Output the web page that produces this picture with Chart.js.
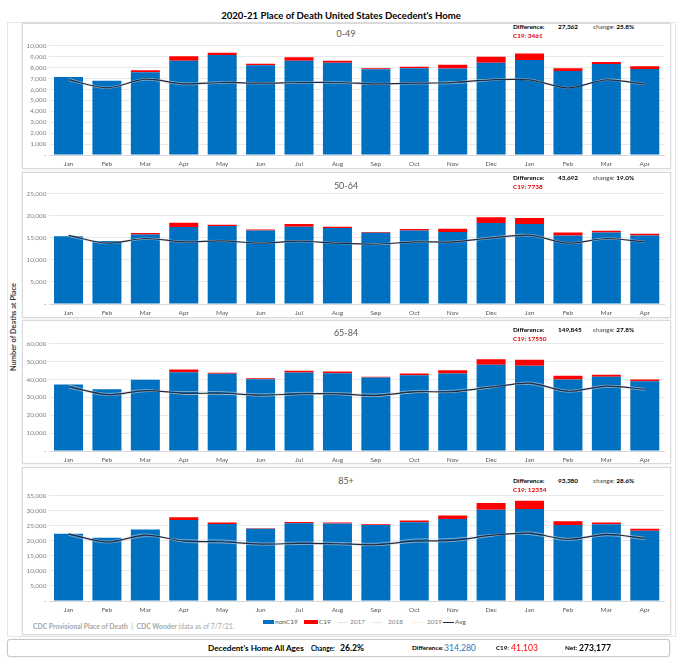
<!DOCTYPE html>
<html><head><meta charset="utf-8">
<script src="https://cdn.jsdelivr.net/npm/chart.js@4.4.1/dist/chart.umd.min.js"></script>
<style>
body{margin:0;width:680px;height:664px;background:#fff;position:relative;font-family:Lato,"Open Sans",sans-serif;overflow:hidden}
.t{position:absolute;white-space:nowrap;line-height:1;transform:translateY(-50%)}
.box{position:absolute;border:1px solid #d9d9d9;background:#fff;box-sizing:border-box}
.panel{box-shadow:0 0 2px rgba(0,0,0,0.12)}
canvas{position:absolute}
b{font-weight:700}
</style>
</head>
<body>
<div class="box" style="left:7px;top:22px;width:669px;height:615px;border-color:#e6e6e6"></div>
<div class="box panel" style="left:22px;top:23px;width:649px;height:146px"></div>
<div class="box panel" style="left:22px;top:172px;width:649px;height:146px"></div>
<div class="box panel" style="left:22px;top:320px;width:649px;height:144px"></div>
<div class="box panel" style="left:22px;top:467px;width:649px;height:168px"></div>
<div class="box panel" style="left:7px;top:639px;width:663px;height:18px;border-radius:3px;border-color:#c8c8c8"></div>

<canvas id="c1"></canvas><canvas id="c2"></canvas><canvas id="c3"></canvas><canvas id="c4"></canvas>

<div class="t" style="left:0;width:682px;text-align:center;top:16px;font-size:9.6px;font-weight:700;color:#000">2020-21 Place of Death United States Decedent's Home</div>
<div class="t" style="left:14px;top:327px;font-size:7.4px;font-weight:700;color:#404040;transform:translate(-50%,-50%) rotate(-90deg)">Number of Deaths at Place</div>

<div id="notes"></div>

<div class="t" style="left:263px;top:622px;width:11px;height:4px;background:#0070c0;transform:translateY(-50%)"></div>
<div class="t" style="left:275px;top:622px;font-size:6.5px;color:#595959">nonC19</div>
<div class="t" style="left:304px;top:622px;width:14px;height:4px;background:#ff0000;transform:translateY(-50%)"></div>
<div class="t" style="left:319px;top:622px;font-size:6.5px;color:#595959">C19</div>
<div class="t" style="left:338px;top:622px;width:10px;height:1px;background:#e3e3e3;transform:none"></div>
<div class="t" style="left:350px;top:622px;font-size:6.5px;color:#7f7f7f">2017</div>
<div class="t" style="left:371px;top:622px;width:11px;height:1px;background:#e3e8ef;transform:none"></div>
<div class="t" style="left:388px;top:622px;font-size:6.5px;color:#7f7f7f">2018</div>
<div class="t" style="left:412px;top:622px;width:11px;height:1px;background:#f6efd4;transform:none"></div>
<div class="t" style="left:427px;top:622px;font-size:6.5px;color:#7f7f7f">2019</div>
<div class="t" style="left:443px;top:621.5px;width:11px;height:1.5px;background:#1f2a44;transform:none"></div>
<div class="t" style="left:455px;top:622px;font-size:6.5px;color:#595959">Avg</div>

<div class="t" style="left:33px;top:626px;font-size:6.8px;color:#a6a6a6"><b>CDC Provisional Place of Death</b> &nbsp;|&nbsp; <b>CDC Wonder</b> (data as of 7/7/21.</div>

<div class="t" style="left:208px;top:648px;font-size:8.2px;font-weight:700;color:#000">Decedent's Home All Ages</div>
<div class="t" style="left:311px;top:648px;font-size:6.6px;font-weight:700;color:#000">Change:</div>
<div class="t" style="left:340px;top:648px;font-size:8.6px;font-weight:700;color:#000">26.2%</div>
<div class="t" style="left:412px;top:648px;font-size:6.4px;font-weight:700;color:#000">Difference:</div>
<div class="t" style="left:444px;top:648px;font-size:8.6px;color:#2e75b6">314,280</div>
<div class="t" style="left:496px;top:648px;font-size:6.2px;font-weight:700;color:#000">C19:</div>
<div class="t" style="left:511px;top:648px;font-size:8.6px;color:#ff0000">41,103</div>
<div class="t" style="left:565px;top:648px;font-size:6.4px;font-weight:700;color:#000">Net:</div>
<div class="t" style="left:579px;top:648px;font-size:8.6px;font-weight:700;color:#000">273,177</div>

<script>
const months = ['Jan','Feb','Mar','Apr','May','Jun','Jul','Aug','Sep','Oct','Nov','Dec','Jan','Feb','Mar','Apr'];

const groups = ['0-49','50-64','65-84','85+'];
const differences = ['27,362','43,692','149,845','93,380'];
const changes = ['25.8%','19.0%','27.8%','28.6%'];
const c19Totals = ['3461','7738','17550','12354'];

// 0-49
const nonC19_0_49 = [7150,6800,7575,8640,9150,8210,8640,8450,7850,7940,7910,8450,8700,7700,8330,7880];
const c19_0_49    = [0,0,185,390,210,150,300,190,90,150,360,550,600,240,185,240];
const avg_0_49    = [6900,6150,6940,6515,6640,6575,6640,6640,6515,6575,6640,6880,6880,6150,6880,6485];
const y2017_0_49  = [6800,6100,6850,6420,6560,6500,6580,6560,6450,6500,6520,6800,6950,6200,6820,6420];
const y2018_0_49  = [7000,6220,7000,6600,6700,6620,6700,6700,6560,6620,6700,6920,6850,6120,6950,6550];
const y2019_0_49  = [6900,6150,6960,6540,6660,6600,6620,6660,6540,6600,6680,6940,6860,6150,6900,6500];

// 50-64
const nonC19_50_64 = [15350,14300,15770,17450,17680,16690,17530,17220,16150,16690,16310,18360,18140,15540,16230,15540];
const c19_50_64    = [0,0,310,990,300,230,610,310,160,300,760,1300,1370,690,380,390];
const avg_50_64    = [15550,13800,14860,14100,14330,13800,14250,13800,13560,14100,14100,15010,15620,13800,14860,14100];
const y2017_50_64  = [15300,13650,14700,13950,14200,13700,14100,13700,13450,13950,13950,14800,15400,13650,14700,13950];
const y2018_50_64  = [15800,13950,15000,14250,14450,13900,14400,13900,13650,14250,14250,15200,15800,13950,15000,14250];
const y2019_50_64  = [15550,13800,14880,14100,14350,13820,14250,13820,13580,14100,14120,15050,15650,13800,14880,14100];

// 65-84
const nonC19_65_84 = [37190,34580,39810,44110,43170,40180,43920,43550,41120,42430,43360,48220,47660,40000,41490,39060];
const c19_65_84    = [0,0,0,1490,560,560,940,930,370,930,1870,3180,3360,2050,1120,940];
const avg_65_84    = [36070,31590,33830,32330,32330,31210,31960,31960,31030,33080,33270,35700,37940,33460,36260,34580];
const y2017_65_84  = [35200,31000,33200,33300,33200,32000,32800,32700,31900,33900,34000,36300,37200,32900,35600,34000];
const y2018_65_84  = [36900,32200,34400,32000,31800,30800,31500,31500,30600,32700,33000,35300,38600,34000,36800,35100];
const y2019_65_84  = [36000,31500,33800,31700,31900,30800,31600,31700,30600,32600,32800,35500,38000,33500,36300,34600];

// 85+
const nonC19_85 = [22350,21030,23780,26970,25650,24000,25870,25760,25320,26200,27300,30390,30610,25320,25540,23340];
const c19_85    = [0,0,0,890,440,220,440,330,220,550,1100,2200,2750,1210,550,660];
const avg_85    = [22350,19600,21910,19930,19710,18940,19160,19050,18720,19930,20150,21800,22570,20480,22130,20810];
const y2017_85  = [21800,19300,21400,20400,20300,19300,19600,19500,19200,20600,20800,22100,22100,20100,21700,20400];
const y2018_85  = [22800,19900,22300,19600,19300,18600,18800,18700,18400,19500,19800,21500,23000,20800,22500,21200];
const y2019_85  = [22400,19600,21900,19800,19600,18900,19100,19000,18600,19800,20000,21700,22600,20500,22200,20800];

const panelData = [
  {nonC19:nonC19_0_49, c19:c19_0_49, avg:avg_0_49, y17:y2017_0_49, y18:y2018_0_49, y19:y2019_0_49, max:10000, step:1000},
  {nonC19:nonC19_50_64, c19:c19_50_64, avg:avg_50_64, y17:y2017_50_64, y18:y2018_50_64, y19:y2019_50_64, max:25000, step:5000},
  {nonC19:nonC19_65_84, c19:c19_65_84, avg:avg_65_84, y17:y2017_65_84, y18:y2018_65_84, y19:y2019_65_84, max:60000, step:10000},
  {nonC19:nonC19_85, c19:c19_85, avg:avg_85, y17:y2017_85, y18:y2018_85, y19:y2019_85, max:35000, step:5000}
];

// layout (pixels)
const plotTops = [45, 193.8, 343.7, 495];
const plotBottoms = [155, 303.3, 450.7, 601];
const titleY = [33, 185, 332, 480];
const noteY = [27, 178, 330, 481];

const FONT = 'Lato, "Open Sans", sans-serif';

function makePanel(i) {
  const d = panelData[i];
  const cv = document.getElementById('c' + (i + 1));
  const top = Math.floor(plotTops[i]) - 6;
  const padTop = plotTops[i] - top;
  const xh = 16;
  const h = Math.ceil(plotBottoms[i] - top) + xh;
  cv.width = 649; cv.height = h;
  cv.style.left = '22px'; cv.style.top = top + 'px';
  cv.style.width = '649px'; cv.style.height = h + 'px';
  const line = (label, data, color, w, order) => ({
    type:'line', label, data, borderColor:color, borderWidth:w, pointRadius:0,
    tension:0.3, fill:false, order, stack:'s_' + label
  });
  new Chart(cv, {
    type:'bar',
    data:{
      labels: months,
      datasets:[
        line('Avg', d.avg, '#1f2a44', 1.2, 0),
        line('2019', d.y19, 'rgba(240,228,190,0.55)', 1, 1),
        line('2018', d.y18, 'rgba(215,222,232,0.55)', 1, 2),
        line('2017', d.y17, 'rgba(215,215,215,0.55)', 1, 3),
        {type:'bar', label:'nonC19', data:d.nonC19, backgroundColor:'#0070c0', stack:'bars', order:5, barPercentage:0.755, categoryPercentage:1},
        {type:'bar', label:'C19', data:d.c19, backgroundColor:'#ff0000', stack:'bars', order:5, barPercentage:0.755, categoryPercentage:1}
      ]
    },
    options:{
      responsive:false, animation:false, devicePixelRatio:1,
      layout:{padding:{top:padTop, right:7, left:0, bottom:0}},
      plugins:{legend:{display:false}, tooltip:{enabled:false}},
      scales:{
        x:{stacked:true, grid:{display:false, drawTicks:false}, border:{display:true, color:'#d9d9d9'},
           ticks:{font:{family:FONT, size:6.5}, color:'#595959', padding:5, maxRotation:0, autoSkip:false},
           afterFit(s){ s.height = xh; }},
        y:{stacked:true, min:0, max:d.max,
           ticks:{stepSize:d.step, font:{family:FONT, size:6.3}, color:'#7f7f7f', padding:3,
                  callback:v => v === 0 ? '-' : v.toLocaleString('en-US')},
           grid:{color:'#e8e8e8', drawTicks:false}, border:{display:false},
           afterFit(s){ s.width = 27.3; }}
      }
    }
  });
}

const notes = document.getElementById('notes');
for (let i = 0; i < 4; i++) {
  makePanel(i);
  notes.insertAdjacentHTML('beforeend',
    `<div class="t" style="left:0;width:692px;text-align:center;top:${titleY[i]}px;font-size:9px;color:#595959">${groups[i]}</div>` +
    `<div class="t" style="left:513px;top:${noteY[i]}px;font-size:6.4px;font-weight:700;color:#000">Difference:</div>` +
    `<div class="t" style="left:558px;top:${noteY[i]}px;font-size:6.4px;font-weight:700;color:#000">${differences[i]}</div>` +
    `<div class="t" style="left:593px;top:${noteY[i]}px;font-size:6.4px;color:#404040">change: <b style="color:#000">${changes[i]}</b></div>` +
    `<div class="t" style="left:513px;top:${noteY[i] + 9}px;font-size:6.4px;font-weight:700;color:#e00000">C19: ${c19Totals[i]}</div>`);
}
</script>
</body></html>
